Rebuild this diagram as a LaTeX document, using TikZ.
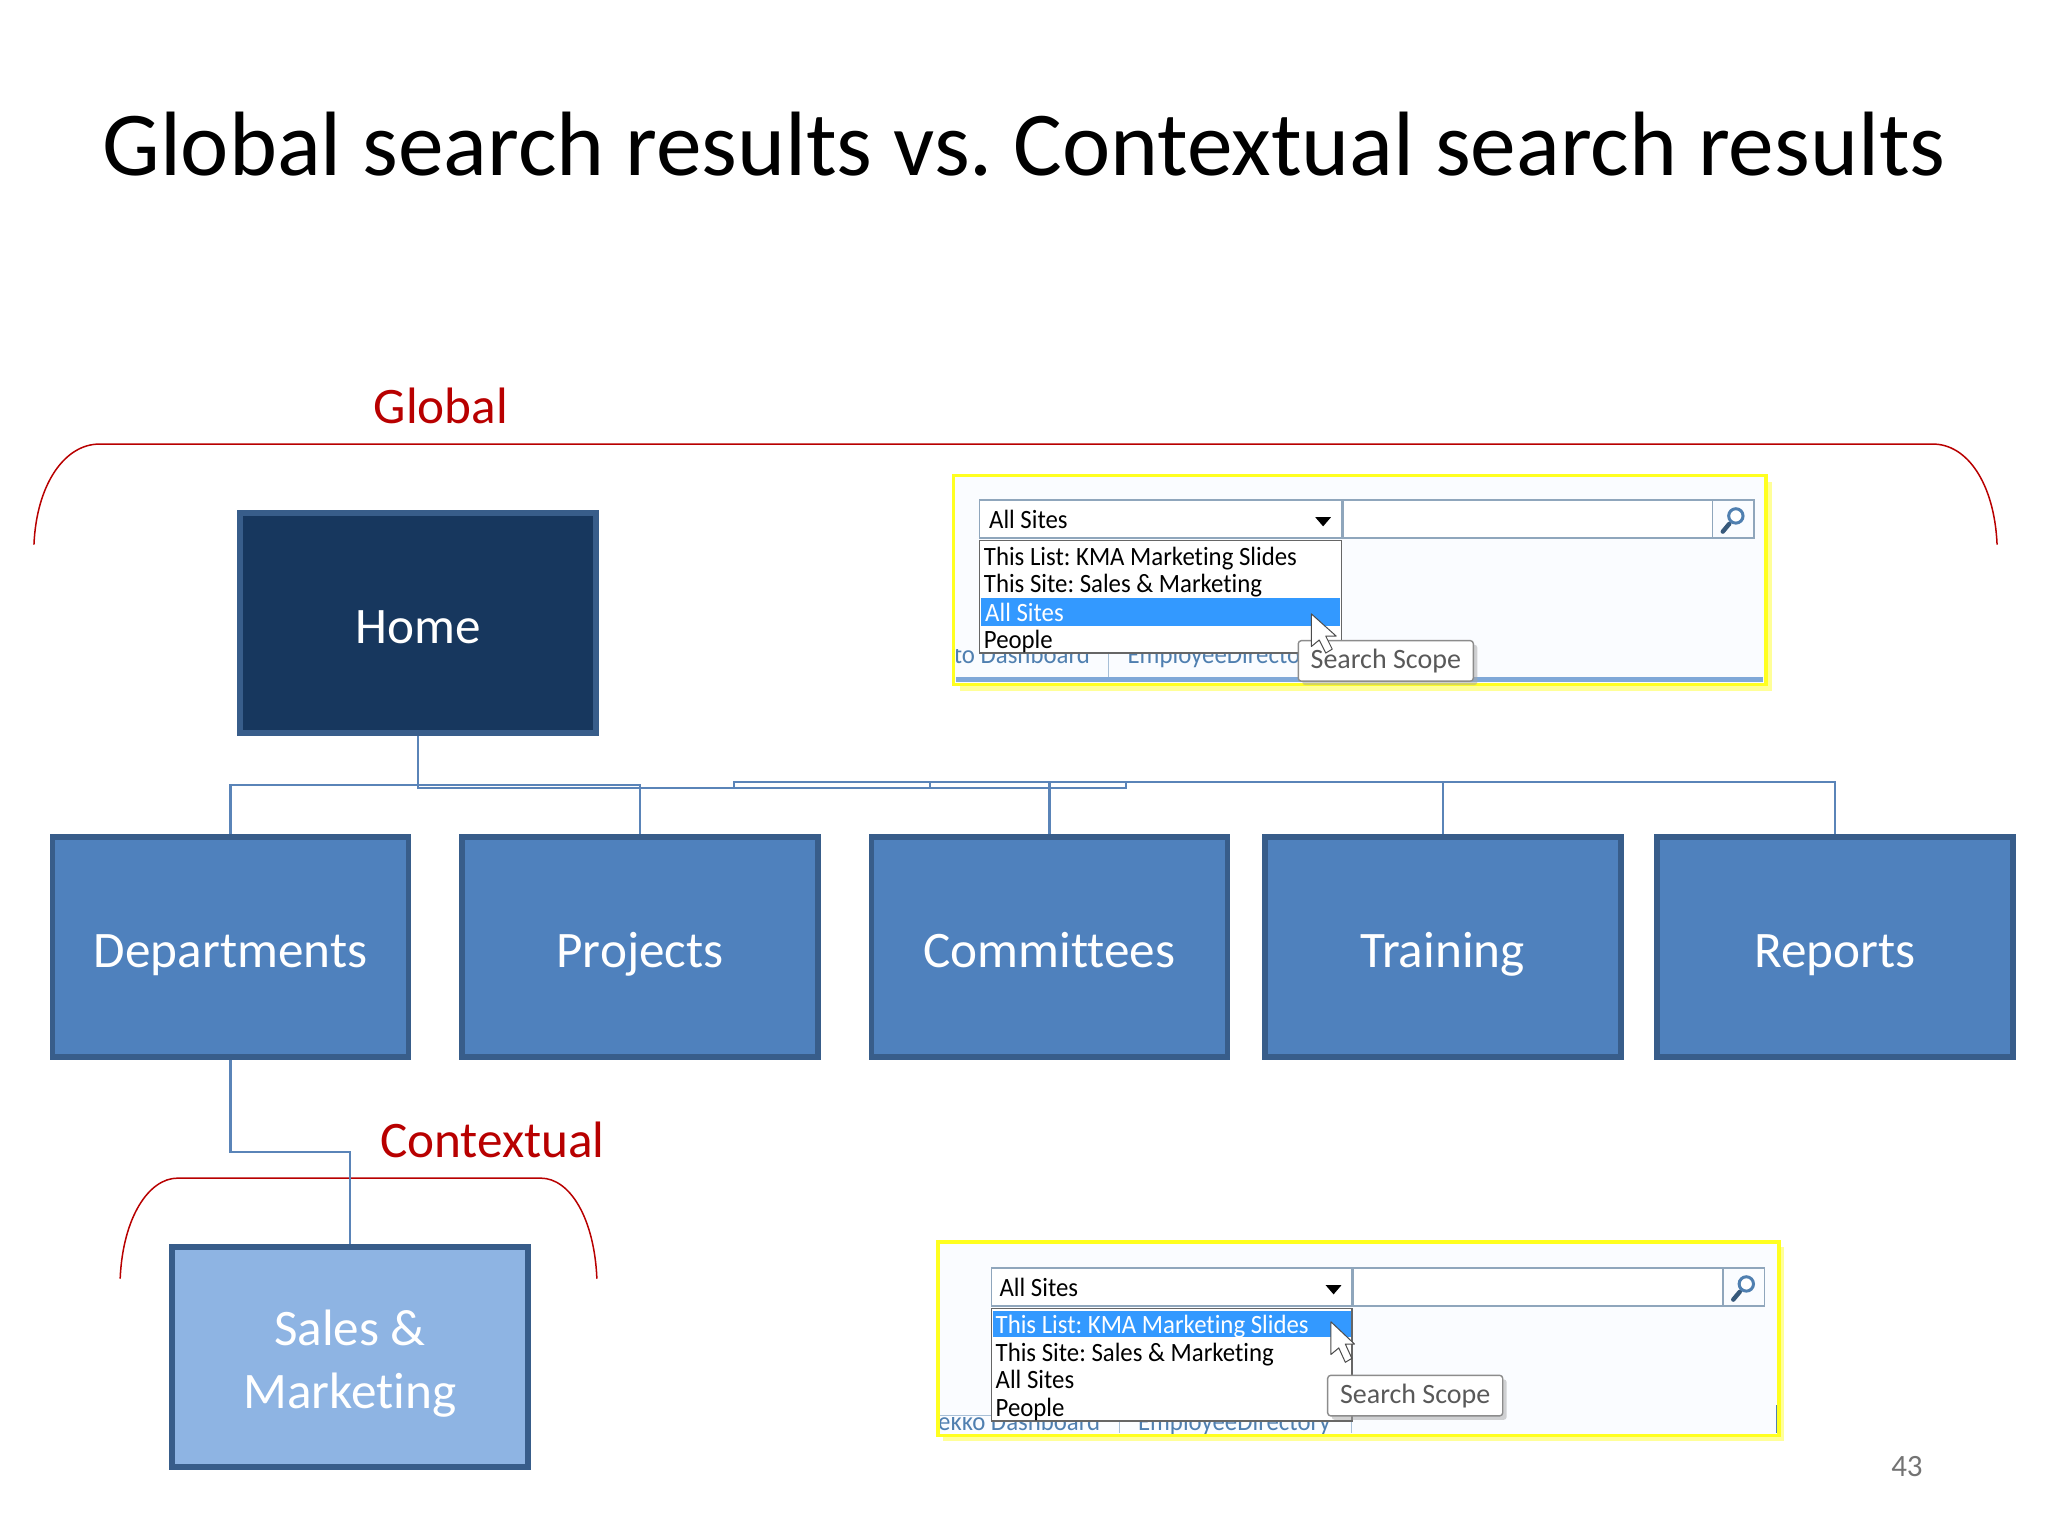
\documentclass[tikz,border=0pt]{standalone}
\usepackage{fontspec}
\setmainfont[Ligatures=CommonOff]{Carlito}
\newfontfamily\shotfont[FakeStretch=0.94,Ligatures=CommonOff]{Carlito}
\definecolor{navy}{HTML}{17375E}
\definecolor{edge}{HTML}{385D8A}
\definecolor{midblue}{HTML}{4F81BD}
\definecolor{paleblue}{HTML}{8EB4E3}
\definecolor{scarlet}{HTML}{B80000}
\definecolor{wire}{HTML}{5A84B8}
\definecolor{ybord}{HTML}{FFFF20}
\definecolor{yshadow}{HTML}{FFFF98}
\definecolor{shotbg}{HTML}{FAFCFF}
\definecolor{ctl}{HTML}{8FA6BC}
\definecolor{hi}{HTML}{3399FF}
\definecolor{tab}{HTML}{4F7FB0}
\definecolor{barblue}{HTML}{7FA8D8}
\newlength{\punit}\setlength{\punit}{0.653061pt}
\usetikzlibrary{shadows,calc}
\tikzset{
  box/.style={draw=edge,line width=2.9pt,minimum width=272.6\punit,minimum height=168.6\punit,inner sep=0pt,text=white,font=\fontsize{25.6}{31.5}\selectfont,align=center},
  singlebox/.style={box,text height=32\punit,text depth=0pt},
  wired/.style={draw=wire,line width=1.05pt},
  brace/.style={draw=scarlet,line width=0.75pt},
  redlabel/.style={text=scarlet,font=\fontsize{25.6}{30}\selectfont,inner sep=0pt},
  panel/.style={draw=ybord,line width=1.9pt,fill=shotbg},
  pshadow/.style={fill=yshadow},
  field/.style={draw=ctl,line width=0.8pt,fill=white},
  listbox/.style={draw=black!60,line width=0.7pt,fill=white},
  sel/.style={fill=hi},
  shot/.style={font=\shotfont\fontsize{13.2}{15}\selectfont,inner sep=0pt,anchor=base west,text=black},
  shotw/.style={shot,text=white},
  tabtxt/.style={shot,text=tab},
  tip/.style={draw=black!45,line width=0.7pt,fill=white,rounded corners=1.5pt,drop shadow={shadow xshift=2pt,shadow yshift=-2pt,fill=black!35},text=black!65,font=\fontsize{14}{16}\selectfont,inner sep=0pt,minimum height=31\punit,minimum width=134\punit},
  arrowdown/.style={fill=black},
  ptr/.style={fill=white,draw=black!70,line width=0.5pt,line join=round},
  lens/.style={draw=tab,line width=1.5pt,fill=white},
  lenshandle/.style={draw=tab!70!black,line width=2.2pt,line cap=round},
}
\AtBeginDocument{\frenchspacing}
\begin{document}
\begin{tikzpicture}[x=\punit,y=-\punit]
\useasboundingbox (0,0) rectangle (1568,1176);
\node[inner sep=0pt,font=\fontsize{45.7}{50}\selectfont] (title) at (784,110) {Global search results vs. Contextual search results};
\node[redlabel] (glabel) at (337.5,311) {Global};
\node[redlabel] (clabel) at (377,873) {Contextual};
% braces
\coordinate (gl) at (26,417); \coordinate (gr) at (1529,417);
\coordinate (cl) at (92,979); \coordinate (cr) at (457,979);
\draw[brace] (gl) .. controls (28,370) and (50,340) .. (76,340) -- (1480,340) .. controls (1506,340) and (1527,370) .. (gr);
\draw[brace] (cl) .. controls (94,932) and (114,902) .. (136,902) -- (414,902) .. controls (436,902) and (455,932) .. (cr);
% boxes
\node[singlebox,fill=navy] (home) at (320,477) {Home};
\node[singlebox,fill=midblue] (dept) at (176.5,725) {Departments};
\node[singlebox,fill=midblue] (proj) at (490,725) {Projects};
\node[singlebox,fill=midblue] (comm) at (803.5,725) {Committees};
\node[singlebox,fill=midblue] (train) at (1104.5,725) {Training};
\node[singlebox,fill=midblue] (rep) at (1405,725) {Reports};
\node[box,fill=paleblue,text=white] (sales) at (268,1039) {\rule{0pt}{24pt}Sales \&\\Marketing};
% connectors
\coordinate (busa) at (320,601);
\coordinate (busb) at (320,603);
\coordinate (busc) at (862,603);
\coordinate (busd) at (862,599);
\coordinate (buse) at (562,599);
\coordinate (busf) at (562,603);
\coordinate (busg) at (712,599);
\coordinate (bush) at (712,603);
\draw[wired] (home.south) -- (busb) -- (busc) -- (busd);
\draw[wired] (busa) -| (dept.north);
\draw[wired] (busa) -| (proj.north);
\draw[wired] (busf) -- (buse) -| (rep.north);
\draw[wired] (busg) -- (bush);
\draw[wired] (comm.north) -- (comm.north |- busd);
\draw[wired] (train.north) -- (train.north |- busd);
\coordinate (elbow) at (176.5,882);
\draw[wired] (dept.south) -- (elbow) -| (sales.north);
% upper panel
\fill[pshadow] (735,369) rectangle (1357,529);
\draw[panel] (730,364) rectangle (1352,524);
\fill[barblue] (732,518) rectangle (1350,522.5);
\begin{scope}
\clip (732,497) rectangle (1350,518);
\node[tabtxt] (t1) at (730,508) {to Dashboard};
\node[tabtxt] (t2) at (863,508) {EmployeeDirecto};
\end{scope}
\draw[tab!50,line width=0.5pt] (849,500) -- (849,518);
\draw[field] (750,383) rectangle (1027,412);
\draw[field] (1028,383) rectangle (1343,412);
\draw[field,fill=shotbg] (1311,383) rectangle (1343,412);
\node[shot] (a0) at (757,404.5) {All Sites};
\fill[arrowdown] (1007,396) -- (1019,396) -- (1013,403) -- cycle;
\draw[lenshandle] (1324,401) -- (1319,407);
\draw[lens] (1329,395) circle (5.5);
\draw[listbox] (750,414) rectangle (1027,500);
\fill[sel] (751,458) rectangle (1026,479);
\node[shot] (a1) at (753,433) {This List: KMA Marketing Slides};
\node[shot] (a2) at (753,454) {This Site: Sales \& Marketing};
\node[shotw] (a3) at (754,475.5) {All Sites};
\node[shot] (a4) at (753,496.5) {People};
\node[tip] (tipa) at (1061,506) {Search Scope};
\draw[ptr] (1004,470) -- (1004,495) -- (1010,490) -- (1015,500) -- (1020,497) -- (1015,487) -- (1023,487) -- cycle;
% lower panel
\fill[pshadow] (722,955) rectangle (1366,1103);
\draw[panel] (718,951) rectangle (1362,1099);
\begin{scope}
\clip (720,1085) rectangle (1035,1097.5);
\node[tabtxt] (b1) at (718,1095) {ekko Dashboard};
\node[tabtxt] (b2) at (871,1095) {EmployeeDirectory};
\end{scope}
\draw[tab!50,line width=0.5pt] (857,1089) -- (857,1097) (720,1084) -- (759,1084) (1035,1089) -- (1035,1097);
\draw[tab,line width=0.7pt] (1360,1076) -- (1360,1097);
\draw[field] (759,971) rectangle (1035,1000);
\draw[field] (1036,971) rectangle (1351,1000);
\draw[field,fill=shotbg] (1319,971) rectangle (1351,1000);
\node[shot] (c0) at (765,992.5) {All Sites};
\fill[arrowdown] (1015,984) -- (1027,984) -- (1021,991) -- cycle;
\draw[lenshandle] (1332,989) -- (1327,995);
\draw[lens] (1337,983) circle (5.5);
\draw[listbox] (759,1002) rectangle (1035,1088);
\fill[sel] (760,1004) rectangle (1034,1024);
\node[shotw] (c1) at (762,1021) {This List: KMA Marketing Slides};
\node[shot] (c2) at (762,1042) {This Site: Sales \& Marketing};
\node[shot] (c3) at (762,1063) {All Sites};
\node[shot] (c4) at (762,1084.5) {People};
\node[tip] (tipb) at (1083.5,1068.5) {Search Scope};
\draw[ptr] (1019,1012) -- (1019,1037) -- (1025,1032) -- (1030,1043) -- (1035,1040) -- (1030,1029) -- (1037,1029) -- cycle;
\node[inner sep=0pt,text=black!55,font=\fontsize{15.5}{18}\selectfont] (pageno) at (1460,1123) {43};
\end{tikzpicture}
\end{document}
